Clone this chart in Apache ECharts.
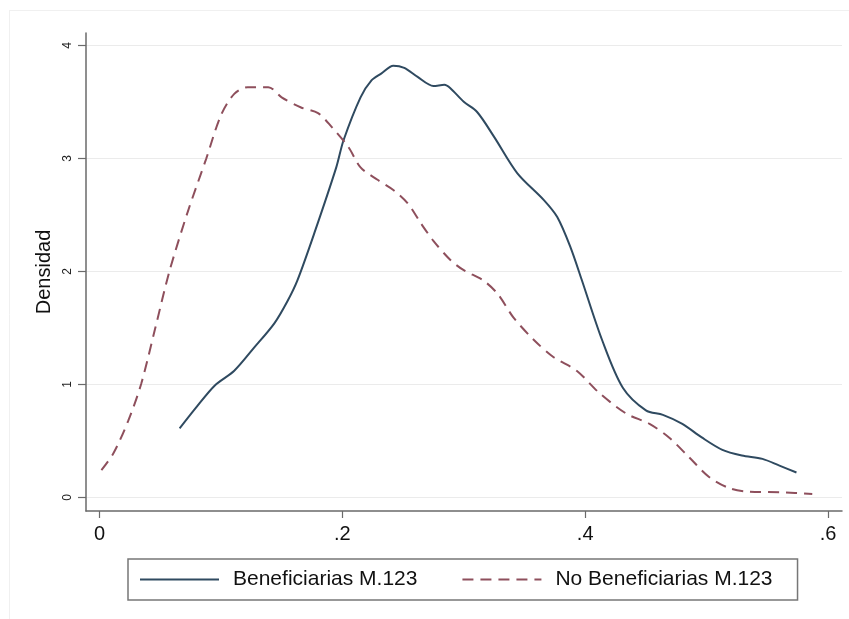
<!DOCTYPE html>
<html>
<head>
<meta charset="utf-8">
<script src="https://cdn.jsdelivr.net/npm/echarts@6/dist/echarts.min.js"></script>
<style>
html,body{margin:0;padding:0;background:#fff;}
#chart{width:849px;height:619px;}
</style>
</head>
<body>
<div id="chart"></div>
<script>
// Beneficiarias M.123 (solid)
const benefX = [0.066,0.080,0.095,0.111,0.127,0.144,0.155,0.163,0.177,0.195,0.201,0.215,0.224,0.232,0.242,0.251,0.262,0.275,0.284,0.289,0.300,0.311,0.325,0.344,0.366,0.377,0.388,0.397,0.414,0.431,0.450,0.464,0.480,0.496,0.513,0.529,0.546,0.560,0.574];
const benefY = [0.61,0.80,0.99,1.12,1.32,1.54,1.74,1.92,2.34,2.92,3.16,3.54,3.69,3.75,3.82,3.80,3.72,3.64,3.65,3.62,3.50,3.41,3.19,2.87,2.63,2.48,2.21,1.93,1.39,0.97,0.77,0.73,0.65,0.53,0.42,0.37,0.34,0.28,0.22];
// No Beneficiarias M.123 (dashed)
const noBenefX = [0.0016,0.0115,0.0238,0.0345,0.046,0.0576,0.0725,0.088,0.100,0.111,0.122,0.139,0.150,0.166,0.180,0.191,0.205,0.215,0.229,0.242,0.254,0.265,0.275,0.289,0.300,0.316,0.328,0.341,0.358,0.374,0.393,0.412,0.434,0.453,0.469,0.486,0.502,0.519,0.535,0.562,0.587];
const noBenefY = [0.24,0.39,0.68,1.01,1.50,2.00,2.52,3.00,3.38,3.57,3.63,3.63,3.54,3.45,3.40,3.28,3.10,2.92,2.81,2.72,2.60,2.42,2.27,2.10,2.01,1.92,1.80,1.59,1.39,1.24,1.12,0.92,0.74,0.65,0.53,0.35,0.18,0.08,0.05,0.045,0.03];
const xTicks = [0, 0.2, 0.4, 0.6];
const yTicks = [0, 1, 2, 3, 4];
const seriesNames = ['Beneficiarias M.123', 'No Beneficiarias M.123'];
const yAxisTitle = 'Densidad';

const pair = (xs, ys) => xs.map((x, i) => [x, ys[i]]);
const font = 'Liberation Sans, Arial, Helvetica, sans-serif';

const chart = echarts.init(document.getElementById('chart'), null, {renderer: 'canvas'});
chart.setOption({
  animation: false,
  backgroundColor: '#ffffff',
  grid: {left: 86, right: 7, top: 33, bottom: 108, containLabel: false},
  xAxis: {
    type: 'value',
    min: -0.0111, max: 0.6115,
    axisLine: {show: true, onZero: false, lineStyle: {color: '#6a6a6a', width: 1.5}},
    axisTick: {show: true, customValues: xTicks, length: 7, lineStyle: {color: '#6a6a6a', width: 1.2}},
    axisLabel: {customValues: xTicks, margin: 13, fontSize: 20, color: '#111', fontFamily: font,
      formatter: v => (v === 0 ? '0' : String(v).replace(/^0/, ''))},
    splitLine: {show: false}
  },
  yAxis: {
    type: 'value',
    min: -0.121, max: 4.109,
    name: yAxisTitle, nameLocation: 'middle', nameGap: 29,
    nameTextStyle: {fontSize: 20, color: '#111', fontFamily: font},
    axisLine: {show: true, onZero: false, lineStyle: {color: '#6a6a6a', width: 1.5}},
    axisTick: {show: true, customValues: yTicks, length: 8, lineStyle: {color: '#6a6a6a', width: 1.2}},
    axisLabel: {customValues: yTicks, rotate: 90, margin: 12, fontSize: 12, color: '#222', fontFamily: font},
    splitLine: {show: true, lineStyle: {color: '#ebebeb', width: 1.2}}
  },
  legend: {
    data: seriesNames,
    left: 128, top: 559,
    orient: 'horizontal',
    padding: [10, 25, 10, 11],
    itemWidth: 79, itemHeight: 20, itemGap: 44,
    itemStyle: {opacity: 0},
    borderColor: '#777', borderWidth: 1.5, borderRadius: 0,
    textStyle: {fontSize: 21, color: '#111', fontFamily: font, padding: [0, 0, 0, 9]}
  },
  graphic: [
    {type: 'line', shape: {x1: 9, y1: 10.5, x2: 849, y2: 10.5}, style: {stroke: '#f0f0f0', lineWidth: 1}, silent: true},
    {type: 'line', shape: {x1: 9.5, y1: 10, x2: 9.5, y2: 619}, style: {stroke: '#f0f0f0', lineWidth: 1}, silent: true}
  ],
  series: [
    {
      name: seriesNames[0], type: 'line', data: pair(benefX, benefY),
      showSymbol: false, symbol: 'none', smooth: 0.3,
      lineStyle: {color: '#2f4a60', width: 2}, itemStyle: {color: '#2f4a60'}
    },
    {
      name: seriesNames[1], type: 'line', data: pair(noBenefX, noBenefY),
      showSymbol: false, symbol: 'none', smooth: 0.3,
      lineStyle: {color: '#8e4f5c', width: 2, type: [11, 7]}, itemStyle: {color: '#8e4f5c'}
    }
  ]
});
</script>
</body>
</html>
